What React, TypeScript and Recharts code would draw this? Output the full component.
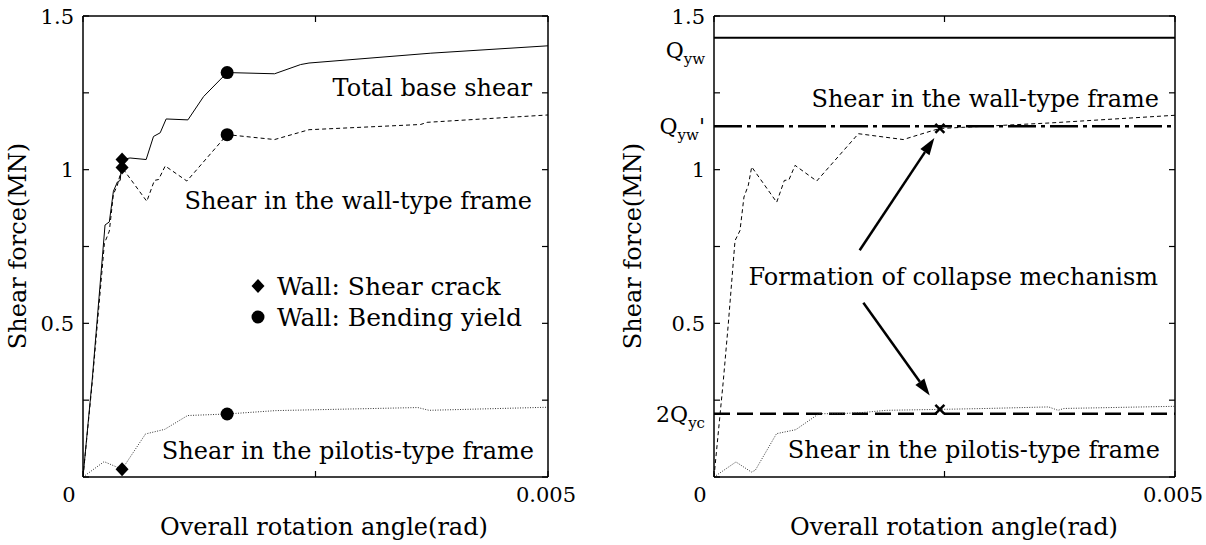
import React from 'react';
import {
    ComposedChart,
    Line,
    Scatter,
    XAxis,
    YAxis,
    ReferenceLine,
    Legend,
} from 'recharts';

const FONT = '"DejaVu Serif", serif';

// overall rotation angle (rad) vs shear force (MN) -- left panel
const totalAngle = [0, 0.0001, 0.000237, 0.000283, 0.000327, 0.00037, 0.0004, 0.00042, 0.000506, 0.000679, 0.000758, 0.00083, 0.000894, 0.001128, 0.001297, 0.00155, 0.00206, 0.00234, 0.00243, 0.00374, 0.005];
const totalShear = [0, 0.32, 0.82, 0.83, 0.93, 0.96, 0.965, 1.033, 1.038, 1.033, 1.108, 1.12, 1.165, 1.162, 1.238, 1.316, 1.312, 1.342, 1.347, 1.379, 1.403];

const wallAngle = [0, 0.0001, 0.00023, 0.000283, 0.000327, 0.00037, 0.00042, 0.000686, 0.000768, 0.000813, 0.000884, 0.001117, 0.00155, 0.00206, 0.00243, 0.00363, 0.0037, 0.005];
const wallShear = [0, 0.31, 0.76, 0.8, 0.92, 0.95, 1.007, 0.897, 0.965, 0.968, 1.012, 0.963, 1.114, 1.098, 1.13, 1.147, 1.154, 1.178];

const pilotisAngle = [0, 0.000227, 0.00042, 0.000672, 0.000878, 0.001125, 0.00155, 0.00207, 0.0036, 0.00372, 0.005];
const pilotisShear = [0, 0.05, 0.025, 0.14, 0.155, 0.2, 0.205, 0.216, 0.226, 0.217, 0.227];

// right panel
const wallAngleR = [0, 0.000101, 0.000155, 0.000228, 0.000282, 0.000325, 0.000372, 0.000409, 0.00068, 0.000763, 0.000813, 0.000879, 0.001114, 0.001566, 0.002053, 0.002379, 0.00245, 0.003644, 0.005];
const wallShearR = [0, 0.313, 0.498, 0.769, 0.802, 0.911, 0.949, 1.009, 0.894, 0.965, 0.967, 1.014, 0.963, 1.117, 1.098, 1.128, 1.134, 1.152, 1.177];

const pilotisAngleR = [0, 0.000238, 0.000406, 0.000448, 0.000678, 0.000887, 0.001138, 0.001368, 0.001619, 0.00187, 0.00245, 0.002958, 0.003628, 0.003732, 0.003795, 0.005];
const pilotisShearR = [0, 0.049, 0.016, 0.022, 0.141, 0.154, 0.206, 0.206, 0.21, 0.217, 0.22, 0.223, 0.228, 0.217, 0.223, 0.23];

// wall events
const crackAngle = 0.00042;
const crackShear = [1.033, 1.007, 0.025];
const yieldAngle = 0.00155;
const yieldShear = [1.316, 1.114, 0.205];

// collapse mechanism
const mechAngle = 0.00245;
const mechShear = [1.134, 0.22];

// strength levels (MN)
const QYW = 1.429;
const QYW_REDUCED = 1.141;
const QYC_2 = 0.206;

const yTicks = [0, 0.25, 0.5, 0.75, 1, 1.25, 1.5];
const yTickLabels: Record<string, string> = {'0.5': '0.5', '1': '1', '1.5': '1.5'};
const xTicks = [0, 0.0025, 0.005];
const xTickLabels: Record<string, string> = {'0': '0', '0.005': '0.005'};

const pts = (xs: number[], ys: number[]) => xs.map((x, i) => ({x, y: ys[i]}));

const H = 545;
const PANEL_W = 603;
const TOP = 16;
const BASE = 477;
const Y_AXIS_W = 60;
const X_AXIS_H = 30;
const TICK_FONT = 21;

const YTick = (props: any) => {
    const {x, y, payload, plotW} = props;
    const ax = x + 10;
    const label = yTickLabels[String(payload.value)];
    return (
        <g>
            <line x1={ax} x2={ax + 6} y1={y} y2={y} stroke="#000" strokeWidth={1.2}/>
            <line x1={ax + plotW - 6} x2={ax + plotW} y1={y} y2={y} stroke="#000" strokeWidth={1.2}/>
            {label && (
                <text x={x + 1} y={y} dy="0.36em" textAnchor="end" fontSize={TICK_FONT} fontFamily={FONT} fill="#000">{label}</text>
            )}
        </g>
    );
};

const XTick = (props: any) => {
    const {x, y, payload, plotH} = props;
    const ay = y - 8;
    const label = xTickLabels[String(payload.value)];
    return (
        <g>
            <line x1={x} x2={x} y1={ay} y2={ay - 6} stroke="#000" strokeWidth={1.2}/>
            <line x1={x} x2={x} y1={ay - plotH} y2={ay - plotH + 6} stroke="#000" strokeWidth={1.2}/>
            {label && (
                <text x={payload.value === 0 ? x - 14 : x - 2} y={ay + 25} textAnchor="middle" fontSize={TICK_FONT} fontFamily={FONT} fill="#000">{label}</text>
            )}
        </g>
    );
};

const Diamond = ({cx, cy}: any) => (
    <polygon points={`${cx},${cy - 7} ${cx + 6.5},${cy} ${cx},${cy + 7} ${cx - 6.5},${cy}`} fill="#000"/>
);

const Dot = ({cx, cy}: any) => <circle cx={cx} cy={cy} r={6.5} fill="#000"/>;

const Cross = ({cx, cy}: any) => (
    <g stroke="#000" strokeWidth={2.5}>
        <line x1={cx - 4.5} y1={cy - 4.5} x2={cx + 4.5} y2={cy + 4.5}/>
        <line x1={cx - 4.5} y1={cy + 4.5} x2={cx + 4.5} y2={cy - 4.5}/>
    </g>
);

const Arrow = (props: any) => {
    const {x1, y1, x2, y2} = props;
    const a = Math.atan2(y2 - y1, x2 - x1);
    const len = 17;
    const half = 5.5;
    const bx = x2 - len * Math.cos(a);
    const by = y2 - len * Math.sin(a);
    const nx = -Math.sin(a) * half;
    const ny = Math.cos(a) * half;
    return (
        <g>
            <line x1={x1} y1={y1} x2={bx} y2={by} stroke="#000" strokeWidth={2.5}/>
            <polygon points={`${x2},${y2} ${bx + nx},${by + ny} ${bx - nx},${by - ny}`} fill="#000"/>
        </g>
    );
};

const QLabel = (main: string, sub: string, prime: boolean, dy: number) => (props: any) => {
    const {viewBox} = props;
    return (
        <text x={viewBox.x - 9} y={viewBox.y + dy} dy="0.36em" textAnchor="end" fontSize={22} fontFamily={FONT} fill="#000">
            <tspan>{main}</tspan>
            <tspan fontSize={15} dy={6}>{sub}</tspan>
            {prime && <tspan dy={-6}>'</tspan>}
        </text>
    );
};

const LegendBox = () => (
    <svg width={320} height={62}>
        <Diamond cx={8} cy={14}/>
        <Dot cx={8} cy={45}/>
        <text x={27} y={14} dy="0.36em" fontSize={25} fontFamily={FONT}>Wall: Shear crack</text>
        <text x={27} y={45} dy="0.36em" fontSize={25} fontFamily={FONT}>Wall: Bending yield</text>
    </svg>
);

interface PanelProps {
    left: number;
    plotLeft: number;
    plotRight: number;
    children: React.ReactNode;
}

const Panel: React.FC<PanelProps> = ({left, plotLeft, plotRight, children}) => {
    const plotW = plotRight - plotLeft;
    const plotH = BASE - TOP;
    return (
        <div style={{position: 'absolute', left, top: 0}}>
            <ComposedChart
                width={PANEL_W}
                height={H}
                margin={{top: TOP, right: PANEL_W - plotRight, bottom: H - BASE - X_AXIS_H, left: plotLeft - Y_AXIS_W}}
            >
                <XAxis
                    type="number"
                    dataKey="x"
                    domain={[0, 0.005]}
                    ticks={xTicks}
                    allowDataOverflow
                    height={X_AXIS_H}
                    tickSize={0}
                    tickMargin={8}
                    tickLine={false}
                    axisLine={{stroke: '#000', strokeWidth: 1.5}}
                    tick={(p: any) => <XTick {...p} plotH={plotH}/>}
                />
                <YAxis
                    type="number"
                    domain={[0, 1.5]}
                    ticks={yTicks}
                    allowDataOverflow
                    width={Y_AXIS_W}
                    tickSize={0}
                    tickMargin={10}
                    tickLine={false}
                    axisLine={{stroke: '#000', strokeWidth: 1.5}}
                    tick={(p: any) => <YTick {...p} plotW={plotW}/>}
                />
                <ReferenceLine y={1.5} stroke="#000" strokeWidth={1.5}/>
                <ReferenceLine x={0.005} stroke="#000" strokeWidth={1.5}/>
                {children}
            </ComposedChart>
        </div>
    );
};

export default function App() {
    return (
        <div style={{position: 'fixed', left: 0, top: 0, width: 1206, height: H, background: '#fff'}}>
            <Panel left={0} plotLeft={83} plotRight={548}>
                <Line data={pts(totalAngle, totalShear)} dataKey="y" stroke="#000" strokeWidth={1} dot={false} activeDot={false} isAnimationActive={false} legendType="none"/>
                <Line data={pts(wallAngle, wallShear)} dataKey="y" stroke="#000" strokeWidth={1} strokeDasharray="4 3" dot={false} activeDot={false} isAnimationActive={false} legendType="none"/>
                <Line data={pts(pilotisAngle, pilotisShear)} dataKey="y" stroke="#333" strokeWidth={1} strokeDasharray="1 1.5" dot={false} activeDot={false} isAnimationActive={false} legendType="none"/>
                <Scatter data={crackShear.map((y) => ({x: crackAngle, y}))} dataKey="y" shape={Diamond} isAnimationActive={false} legendType="none"/>
                <Scatter data={yieldShear.map((y) => ({x: yieldAngle, y}))} dataKey="y" shape={Dot} isAnimationActive={false} legendType="none"/>
                <Legend
                    layout="horizontal"
                    verticalAlign="middle"
                    align="center"
                    content={() => <LegendBox/>}
                    wrapperStyle={{left: 250, top: 272, width: 320}}
                />
            </Panel>
            <Panel left={603} plotLeft={111} plotRight={572}>
                <ReferenceLine y={QYW} stroke="#000" strokeWidth={2} label={QLabel('Q', 'yw', false, 12)}/>
                <ReferenceLine y={QYW_REDUCED} stroke="#000" strokeWidth={2.5} strokeDasharray="28 5 4 5" label={QLabel('Q', 'yw', true, 0)}/>
                <ReferenceLine y={QYC_2} stroke="#000" strokeWidth={2.5} strokeDasharray="16 7" label={QLabel('2Q', 'yc', false, 0)}/>
                <Line data={pts(wallAngleR, wallShearR)} dataKey="y" stroke="#000" strokeWidth={1} strokeDasharray="4 3" dot={false} activeDot={false} isAnimationActive={false} legendType="none"/>
                <Line data={pts(pilotisAngleR, pilotisShearR)} dataKey="y" stroke="#333" strokeWidth={1} strokeDasharray="1 1.5" dot={false} activeDot={false} isAnimationActive={false} legendType="none"/>
                <ReferenceLine segment={[{x: 0.00158, y: 0.738}, {x: 0.00239, y: 1.103}]} shape={Arrow}/>
                <ReferenceLine segment={[{x: 0.00162, y: 0.567}, {x: 0.00234, y: 0.265}]} shape={Arrow}/>
                <Scatter data={mechShear.map((y) => ({x: mechAngle, y}))} dataKey="y" shape={Cross} isAnimationActive={false} legendType="none"/>
            </Panel>
            <svg width={1206} height={H} style={{position: 'absolute', left: 0, top: 0, pointerEvents: 'none'}} fontFamily={FONT} fontSize={24} fill="#000">
                {/* left panel */}
                <text x={532} y={87} dy="0.36em" textAnchor="end">Total base shear</text>
                <text x={532} y={200} dy="0.36em" textAnchor="end">Shear in the wall-type frame</text>
                <text x={534} y={450} dy="0.36em" textAnchor="end">Shear in the pilotis-type frame</text>
                <text transform="translate(17,246) rotate(-90)" dy="0.36em" textAnchor="middle">Shear force(MN)</text>
                <text x={324} y={526} dy="0.36em" textAnchor="middle">Overall rotation angle(rad)</text>
                {/* right panel */}
                <text x={1159} y={98} dy="0.36em" textAnchor="end">Shear in the wall-type frame</text>
                <text x={1158} y={276} dy="0.36em" textAnchor="end">Formation of collapse mechanism</text>
                <text x={1160} y={449} dy="0.36em" textAnchor="end">Shear in the pilotis-type frame</text>
                <text transform="translate(632,246) rotate(-90)" dy="0.36em" textAnchor="middle">Shear force(MN)</text>
                <text x={954} y={526} dy="0.36em" textAnchor="middle">Overall rotation angle(rad)</text>
            </svg>
        </div>
    );
}
